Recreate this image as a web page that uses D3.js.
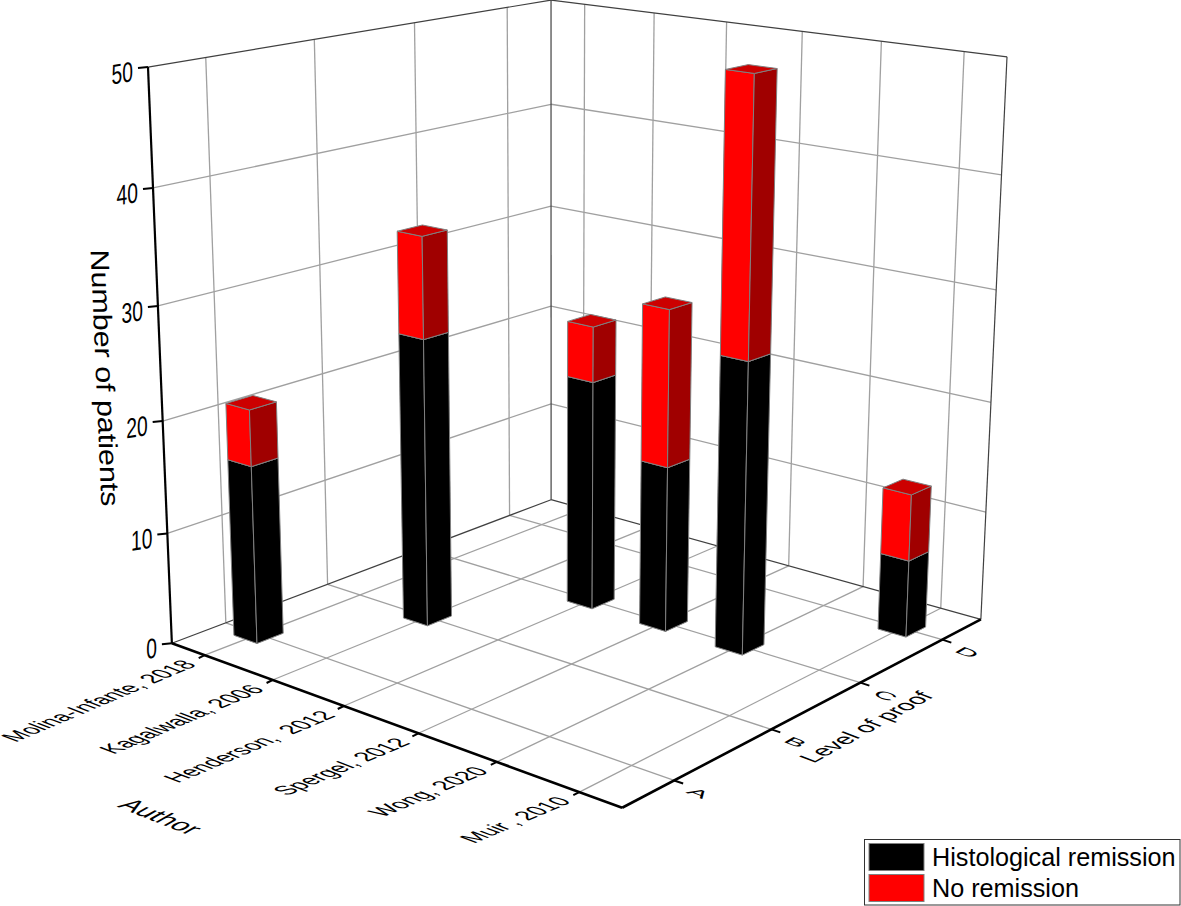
<!DOCTYPE html>
<html>
<head>
<meta charset="utf-8">
<script src="https://cdn.jsdelivr.net/npm/d3@7"></script>
<style>
  html, body { margin: 0; padding: 0; background: #fff; }
  svg { display: block; font-family: "Liberation Sans", Arial, sans-serif; }
  text { white-space: pre; }
</style>
</head>
<body>
<script>
const authors = ["Molina-Infante, 2018", "Kagalwalla, 2006", "Henderson,  2012", "Spergel, 2012", "Wong, 2020", "Muir\u2009, 2010"];
const levels = ["A", "B", "C", "D"];
const zTicks = [0, 10, 20, 30, 40, 50];
const barLevels = ["A", "B", "C", "C", "C", "D"];
const remission = [16, 26, 21, 15, 26, 7];
const noRemission = [5, 9, 5, 14, 24, 6];
const seriesNames = ["Histological remission", "No remission"];

const width = 1181;
const height = 906;

// Box corners on the page, used to solve the camera: [x, y, z] -> [px, py]
const calibration = [
  [[0, 0, 0], [172, 643]],
  [[1, 0, 0], [622, 808]],
  [[1, 1, 0], [981, 619]],
  [[0, 1, 0], [551, 500]],
  [[0, 0, 1], [148, 67]],
  [[0, 1, 1], [551, 0]],
  [[1, 1, 1], [1007, 57]],
];

// Least squares for the 3x4 projection matrix (last element fixed to 1)
function solveCamera(points) {
  const rows = [];
  points.forEach(([[X, Y, Z], [px, py]]) => {
    const u = px / 1000;
    const v = py / 1000;
    rows.push([X, Y, Z, 1, 0, 0, 0, 0, -u * X, -u * Y, -u * Z, u]);
    rows.push([0, 0, 0, 0, X, Y, Z, 1, -v * X, -v * Y, -v * Z, v]);
  });
  const n = 11;
  const m = d3.range(n).map((i) =>
    d3.range(n + 1).map((j) => d3.sum(rows, (r) => r[i] * r[j])),
  );
  for (let c = 0; c < n; c++) {
    let best = c;
    for (let r = c + 1; r < n; r++) if (Math.abs(m[r][c]) > Math.abs(m[best][c])) best = r;
    [m[c], m[best]] = [m[best], m[c]];
    for (let r = 0; r < n; r++) {
      if (r === c) continue;
      const f = m[r][c] / m[c][c];
      for (let k = c; k <= n; k++) m[r][k] -= f * m[c][k];
    }
  }
  return d3.range(n).map((i) => m[i][n] / m[i][i]);
}

const cam = solveCamera(calibration);
const project = (x, y, z) => {
  const w = cam[8] * x + cam[9] * y + cam[10] * z + 1;
  return [
    (1000 * (cam[0] * x + cam[1] * y + cam[2] * z + cam[3])) / w,
    (1000 * (cam[4] * x + cam[5] * y + cam[6] * z + cam[7])) / w,
  ];
};

// Scales map data to the unit box
const xScale = d3.scalePoint().domain(authors).range([0, 1]).padding(0.5);
const yScale = d3.scalePoint().domain(levels).range([0, 1]).padding(0.5);
const zScale = d3.scaleLinear().domain([0, 50]).range([0, 1]);

const svg = d3.select("body").append("svg").attr("width", width).attr("height", height);
const line = d3.line();

const seg = (g, a, b, stroke, w) =>
  g.append("path")
    .attr("d", line([project(...a), project(...b)]))
    .attr("fill", "none")
    .attr("stroke", stroke)
    .attr("stroke-width", w);

// Grid lines on floor and the two walls
const gridColor = "#a0a0a0";
const grid = svg.append("g");
authors.forEach((a) => {
  const x = xScale(a);
  seg(grid, [x, 0, 0], [x, 1, 0], gridColor, 1.3);
  seg(grid, [x, 1, 0], [x, 1, 1], gridColor, 1.3);
});
levels.forEach((l) => {
  const y = yScale(l);
  seg(grid, [0, y, 0], [1, y, 0], gridColor, 1.3);
  seg(grid, [0, y, 0], [0, y, 1], gridColor, 1.3);
});
zTicks.slice(1, -1).forEach((t) => {
  const z = zScale(t);
  seg(grid, [0, 0, z], [0, 1, z], gridColor, 1.3);
  seg(grid, [0, 1, z], [1, 1, z], gridColor, 1.3);
});

// Thin box frame
const frame = svg.append("g");
const frameColor = "#404040";
seg(frame, [0, 0, 1], [0, 1, 1], frameColor, 1.2);
seg(frame, [0, 1, 1], [1, 1, 1], frameColor, 1.2);
seg(frame, [0, 1, 0], [0, 1, 1], frameColor, 1.2);
seg(frame, [1, 1, 0], [1, 1, 1], frameColor, 1.2);
seg(frame, [0, 0, 0], [0, 1, 0], frameColor, 1.2);
seg(frame, [0, 1, 0], [1, 1, 0], frameColor, 1.2);

// Bars, far ones first
const barW = 0.058;
const barD = 0.062;
const bars = authors.map((a, i) => ({
  x: xScale(a),
  y: yScale(barLevels[i]),
  black: remission[i],
  red: noRemission[i],
}));
bars.sort((a, b) => a.x - a.y - (b.x - b.y));

function drawBlock(g, b, z0, z1, colors) {
  const x0 = b.x - barW / 2;
  const x1 = b.x + barW / 2;
  const y0 = b.y - barD / 2;
  const y1 = b.y + barD / 2;
  const lo = zScale(z0);
  const hi = zScale(z1);
  const faces = [
    [[x0, y0, lo], [x1, y0, lo], [x1, y0, hi], [x0, y0, hi]],
    [[x1, y0, lo], [x1, y1, lo], [x1, y1, hi], [x1, y0, hi]],
    [[x0, y0, hi], [x1, y0, hi], [x1, y1, hi], [x0, y1, hi]],
  ];
  faces.forEach((f, i) => {
    g.append("path")
      .attr("d", d3.line()(f.map((p) => project(...p))) + "Z")
      .attr("fill", colors[i])
      .attr("stroke", "#808080")
      .attr("stroke-width", 1)
      .attr("stroke-linejoin", "round");
  });
}

const barsG = svg.append("g");
bars.forEach((b) => {
  drawBlock(barsG, b, 0, b.black, ["#000000", "#000000", "#000000"]);
  drawBlock(barsG, b, b.black, b.black + b.red, ["#ff0000", "#a00000", "#cc0000"]);
});

// Axes in black
const axes = svg.append("g");
seg(axes, [0, 0, 0], [1, 0, 0], "#000", 2.6);
seg(axes, [1, 0, 0], [1, 1, 0], "#000", 2.6);
seg(axes, [0, 0, 0], [0, 0, 1], "#000", 2.2);

// Text laid on a plane: b = baseline vector, u = letter up vector
function planeText(g, str, [px, py], b, u, size, anchor) {
  return g.append("text")
    .attr("transform", `matrix(${b[0]},${b[1]},${-u[0]},${-u[1]},${px},${py})`)
    .attr("font-size", size)
    .attr("text-anchor", anchor)
    .attr("fill", "#000")
    .text(str);
}

const labels = svg.append("g");

// Number axis
zTicks.forEach((t) => {
  const p = project(0, 0, zScale(t));
  axes.append("path")
    .attr("d", line([[p[0] - 10, p[1] + 1], p]))
    .attr("stroke", "#000")
    .attr("stroke-width", 2);
  planeText(labels, t, [p[0] - 15, p[1] + 14], [0.74, -0.12], [0, -1.08], 26, "end");
});

// Author axis
authors.forEach((a) => {
  const p = project(xScale(a), 0, 0);
  axes.append("path")
    .attr("d", line([[p[0] - 6, p[1] + 3], p]))
    .attr("stroke", "#000")
    .attr("stroke-width", 2);
  planeText(labels, a, [p[0] - 7, p[1] + 10], [1.25, -0.53], [-1.45, -0.56], 16, "end");
});

// Level axis
levels.forEach((l) => {
  const p = project(1, yScale(l), 0);
  axes.append("path")
    .attr("d", line([p, [p[0] + 9, p[1] + 3]]))
    .attr("stroke", "#000")
    .attr("stroke-width", 2);
  planeText(labels, l, [p[0] + 11, p[1] + 12], [1.6, 0.62], [0.83, -0.48], 16, "start");
});

// Axis titles
planeText(labels, "Number of patients", [96, 378], [0.05, 1.17], [1, 0], 26, "middle");
planeText(labels, "Author", [153, 821], [1.55, 0.62], [1.4, -0.8], 16, "middle");
planeText(labels, "Level of proof", [874, 730], [1.25, -0.69], [-1.45, -0.56], 16, "middle");

// Legend
const legend = svg.append("g");
legend.append("rect")
  .attr("x", 864.5).attr("y", 839.5)
  .attr("width", 315.5).attr("height", 65.5)
  .attr("fill", "#fff").attr("stroke", "#333").attr("stroke-width", 1);
seriesNames.forEach((name, i) => {
  legend.append("rect")
    .attr("x", 869).attr("y", 843.5 + i * 31)
    .attr("width", 55).attr("height", 27)
    .attr("fill", i === 0 ? "#000" : "#f00")
    .attr("stroke", "#808080").attr("stroke-width", 1);
  legend.append("text")
    .attr("x", 932).attr("y", 866 + i * 31)
    .attr("font-size", 25.2)
    .attr("fill", "#000")
    .text(name);
});
</script>
</body>
</html>
